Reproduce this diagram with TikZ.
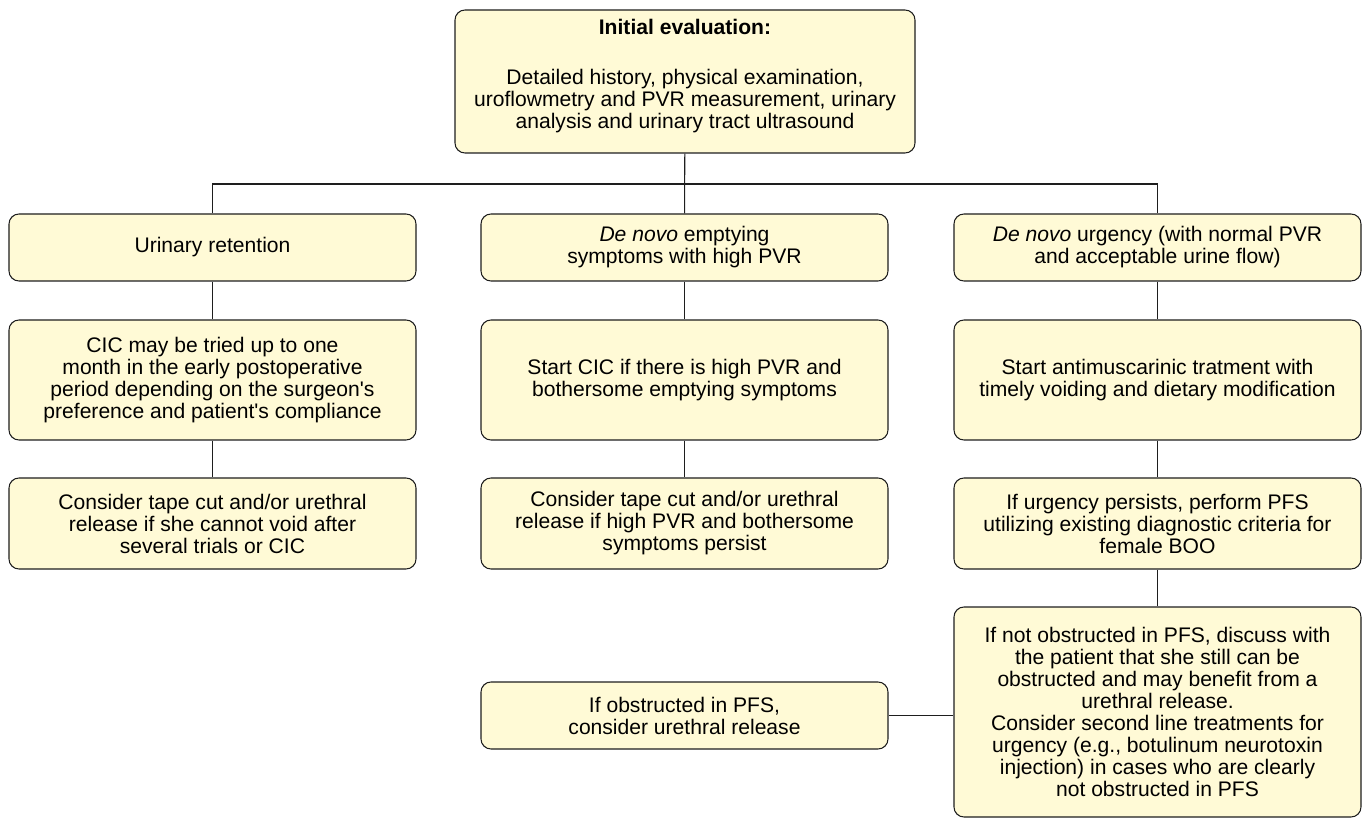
\documentclass[tikz,border=0pt]{standalone}
\usepackage{fontspec}
\setmainfont{Liberation Sans}
\definecolor{boxfill}{RGB}{255,250,214}
\definecolor{boxline}{RGB}{30,30,30}
\begin{document}
\begin{tikzpicture}[line width=0.6pt, draw=boxline,
    box/.style={draw=boxline, fill=boxfill, rounded corners=0.2cm, align=center,
      font=\fontsize{12}{12.5}\selectfont, inner sep=2pt,
      minimum width=8.14cm}]

      \useasboundingbox (0,0) rectangle (27.32,-16.4);

      \begin{scope}[every node/.style={box}]
        \node[minimum width=9.2cm, minimum height=2.86cm] (1) at (13.7,-1.63)
          {\textbf{Initial evaluation:}\\[15.8pt]
           Detailed history, physical examination,\\
           uroflowmetry and PVR measurement, urinary\\
           analysis and urinary tract ultrasound\\[-4pt]};
        \node[minimum height=1.34cm] (2) at (4.25,-4.95) {Urinary retention};
        \node[minimum height=1.34cm] (3) at (13.69,-4.95)
          {\textit{De novo} emptying\\symptoms with high PVR};
        \node[minimum height=1.34cm] (4) at (23.15,-4.95)
          {\textit{De novo} urgency (with normal PVR\\and acceptable urine flow)};
        \node[minimum height=2.4cm] (5) at (4.25,-7.6)
          {CIC may be tried up to one\\month in the early postoperative\\
           period depending on the surgeon\textquotesingle s\\
           preference and patient\textquotesingle s compliance};
        \node[minimum height=2.4cm] (6) at (13.69,-7.6)
          {Start CIC if there is high PVR and\\bothersome emptying symptoms};
        \node[minimum height=2.4cm] (7) at (23.15,-7.6)
          {Start antimuscarinic tratment with\\timely voiding and dietary modification};
        \node[minimum height=1.82cm] (8) at (4.25,-10.47)
          {Consider tape cut and/or urethral\\release if she cannot void after\\several trials or CIC};
        \node[minimum height=1.82cm] (9) at (13.69,-10.47)
          {Consider tape cut and/or urethral\\release if high PVR and bothersome\\symptoms persist};
        \node[minimum height=1.82cm] (10) at (23.15,-10.47)
          {If urgency persists, perform PFS\\utilizing existing diagnostic criteria for\\female BOO};
        \node[minimum height=4.2cm] (11) at (23.15,-14.24)
          {If not obstructed in PFS, discuss with\\the patient that she still can be\\
           obstructed and may benefit from a\\urethral release.\\
           Consider second line treatments for\\urgency (e.g., botulinum neurotoxin\\
           injection) in cases who are clearly\\not obstructed in PFS};
        \node[minimum height=1.34cm] (12) at (13.69,-14.31)
          {If obstructed in PFS,\\consider urethral release};
      \end{scope}

      \coordinate (j) at (13.69,-3.68);

      \draw (1) -- (3);
      \draw (2.north) |- (j) -| (4.north);
      \draw (2) -- (5);
      \draw (3) -- (6);
      \draw (4) -- (7);
      \draw (5) -- (8);
      \draw (6) -- (9);
      \draw (7) -- (10);
      \draw (10) -- (11);
      \draw (12) -- (12 -| 11.west);

    \end{tikzpicture}
\end{document}
